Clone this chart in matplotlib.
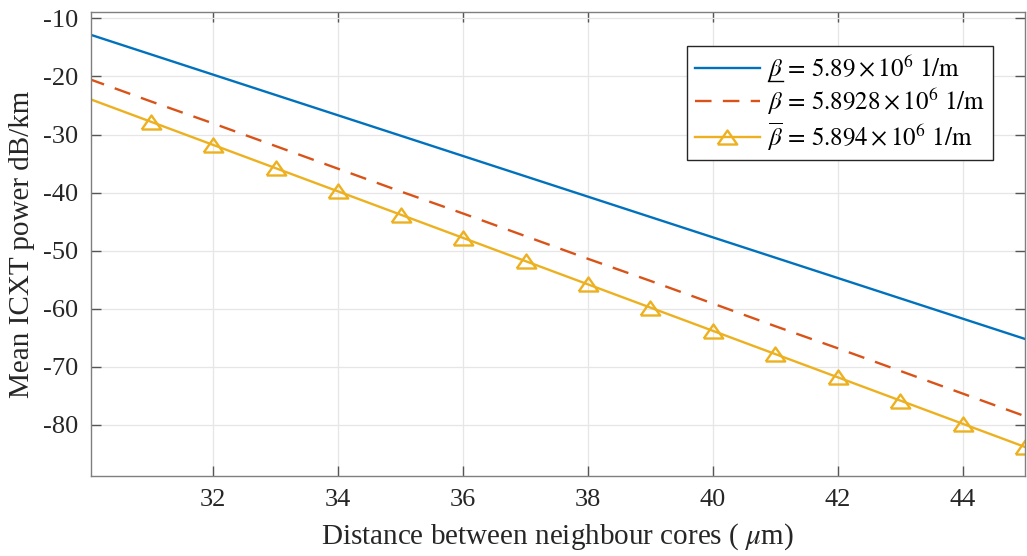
import matplotlib
matplotlib.use("Agg")
import matplotlib.pyplot as plt
from matplotlib.lines import Line2D

# ---- data ----
distance = [30, 31, 32, 33, 34, 35, 36, 37, 38, 39, 40, 41, 42, 43, 44, 45]
xt_beta_low = [-12.7, -16.2, -19.7, -23.2, -26.7, -30.2, -33.7, -37.2,
               -40.7, -44.2, -47.7, -51.2, -54.7, -58.2, -61.7, -65.2]
xt_beta_mid = [-20.4, -24.3, -28.1, -32.0, -35.9, -39.8, -43.6, -47.5,
               -51.4, -55.2, -59.1, -63.0, -66.8, -70.7, -74.6, -78.5]
xt_beta_high = [-23.8, -27.8, -31.8, -35.8, -39.8, -43.8, -47.8, -51.8,
                -55.8, -59.8, -63.8, -67.8, -71.8, -75.8, -79.8, -83.8]
x_ticks = [32, 34, 36, 38, 40, 42, 44]
y_ticks = [-80, -70, -60, -50, -40, -30, -20, -10]

plt.rcParams['font.family'] = ['Liberation Serif', 'DejaVu Serif']
plt.rcParams['mathtext.fontset'] = 'stix'

lab1 = r'$\beta\,=\,5.89\times10^6\ \mathrm{1/m}$'
lab2 = r'$\beta\,=\,5.8928\times10^6\ \mathrm{1/m}$'
lab3 = r'$\overline{\beta}\,=\,5.894\times10^6\ \mathrm{1/m}$'

fig = plt.figure(figsize=(10.27, 5.56), dpi=100)
ax = fig.add_axes([91/1027, 1-476/556, (1025-91)/1027, (476-12)/556])

c_blue = '#0072BD'
c_red = '#D95319'
c_yel = '#EDB120'
tri = [(-1, -0.72), (1, -0.72), (0, 0.72), (-1, -0.72)]

ax.plot(distance, xt_beta_low, color=c_blue, lw=1.7, label=lab1)
ax.plot(distance, xt_beta_mid, color=c_red, lw=1.7, ls=(0, (7, 4.8)), label=lab2)
ax.plot(distance, xt_beta_high, color=c_yel, lw=1.7, marker=tri, markersize=14,
        markerfacecolor='none', markeredgecolor=c_yel, markeredgewidth=1.7,
        markevery=slice(1, None), label=lab3)

ax.set_xlim(30.04, 45)
ax.set_ylim(-88.8, -8.9)
ax.set_xticks(x_ticks)
ax.set_yticks(y_ticks)
ax.set_yticklabels([str(v) for v in y_ticks])
ax.grid(True, color='#e6e6e6', lw=0.9)
ax.set_axisbelow(True)
for s in ax.spines.values():
    s.set_color('#7f7f7f')
    s.set_linewidth(1.0)
ax.tick_params(direction='in', length=7, width=1.0, color='#555555',
               labelsize=19, labelcolor='#262626', top=True, right=True, pad=9)

ax.set_xlabel(r'Distance between neighbour cores ( $\mu$m)', fontsize=21, color='#262626', labelpad=8)
ax.set_ylabel('Mean ICXT power dB/km', fontsize=21, color='#262626', labelpad=6)

leg = ax.legend(loc='upper right', bbox_to_anchor=(993/1027, 1-45.7/556),
                bbox_transform=fig.transFigure, fontsize=18, frameon=True,
                fancybox=False, shadow=False, edgecolor='#262626', framealpha=1,
                handlelength=2.6, borderpad=0.3, labelspacing=0.12, handletextpad=0.3,
                borderaxespad=0)
leg.get_frame().set_linewidth(1.0)

# manual underline under the first beta
fig.canvas.draw()
r = fig.canvas.get_renderer()
t0 = leg.get_texts()[0]
ext = t0.get_window_extent(r)
tb = fig.text(0, 0, r'$\beta$', fontsize=18)
bext = tb.get_window_extent(r)
tb.remove()
W, H = fig.bbox.width, fig.bbox.height
y_ul = ext.y0 + 3
fig.add_artist(Line2D([(ext.x0 + 1) / W, (ext.x0 + bext.width) / W], [y_ul / H, y_ul / H],
                      color='black', lw=1.0, transform=fig.transFigure))

fig.savefig('out.png', dpi=100)
